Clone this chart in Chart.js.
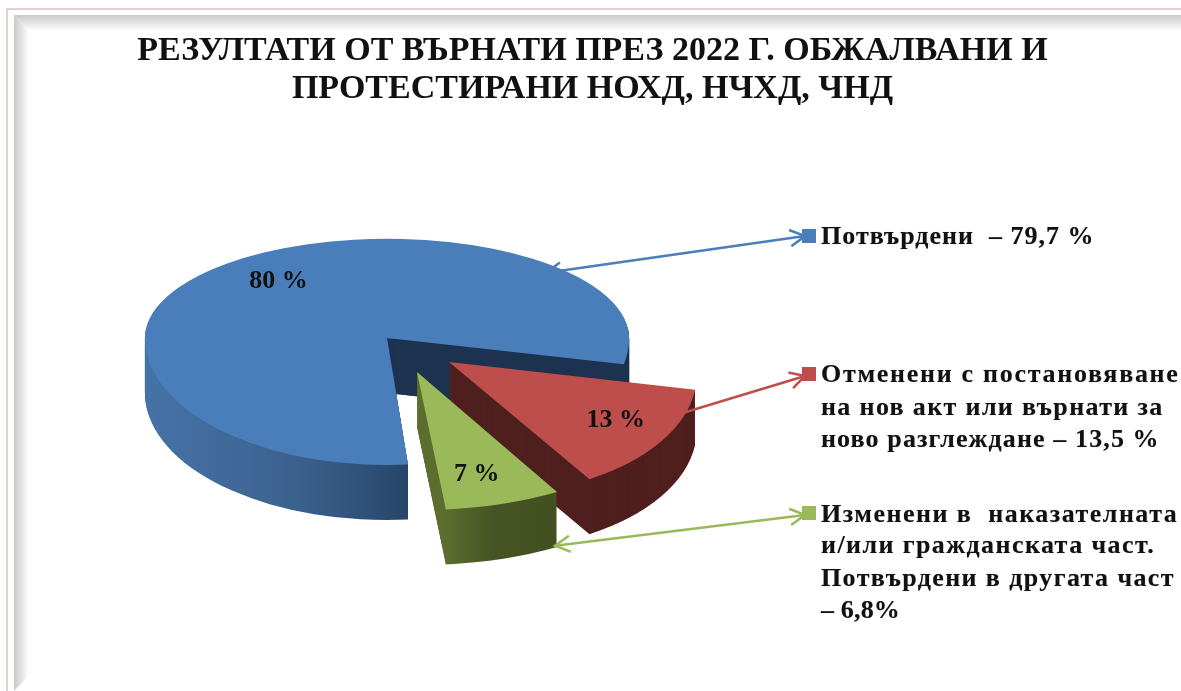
<!DOCTYPE html>
<html>
<head>
<meta charset="utf-8">
<script src="https://cdn.jsdelivr.net/npm/chart.js@4"></script>
<style>
body { margin: 0; background: #fff; width: 1181px; height: 691px; overflow: hidden; position: relative; }
canvas { position: absolute; left: 0; top: 0; }
.frame { position: absolute; }
#pinkTop { left: 6px; top: 8px; right: 0; height: 2px; background: #e6cfcf; }
#pinkLeft { left: 6px; top: 8px; bottom: 0; width: 2px; background: #e6cfcf; }
#shadeTop { left: 14px; top: 15px; right: 0; height: 16px; background: linear-gradient(#c9c9c9, #fff); clip-path: polygon(0 0, 100% 0, 100% 100%, 15px 100%); }
#shadeLeft { left: 14px; top: 15px; bottom: 0; width: 15px; background: linear-gradient(90deg, #c9c9c9, #fff); clip-path: polygon(0 0, 100% 16px, 100% calc(100% - 15px), 0 100%); }
.legendLine { position: absolute; left: 821px; font: bold 26px/30px "Liberation Serif", serif; color: #111; white-space: pre; text-shadow: 0 0 1px rgba(0,0,0,.35); }
.marker { position: absolute; left: 802px; width: 14px; height: 14px; }
</style>
</head>
<body>
<div class="frame" id="pinkTop"></div>
<div class="frame" id="pinkLeft"></div>
<div class="frame" id="shadeTop"></div>
<div class="frame" id="shadeLeft"></div>
<canvas id="myChart" width="1181" height="691"></canvas>
<script>
var titleLines = ['РЕЗУЛТАТИ ОТ ВЪРНАТИ ПРЕЗ 2022 Г. ОБЖАЛВАНИ И', 'ПРОТЕСТИРАНИ НОХД, НЧХД, ЧНД'];
var categories = ['Потвърдени', 'Отменени с постановяване на нов акт или върнати за ново разглеждане', 'Изменени в наказателната и/или гражданската част. Потвърдени в другата част'];
var values = [79.7, 13.5, 6.8];
var sliceLabels = ['80 %', '13 %', '7 %'];
var legendLines = [
    ['Потвърдени  – 79,7 %'],
    ['Отменени с постановяване', 'на нов акт или върнати за', 'ново разглеждане – 13,5 %'],
    ['Изменени в  наказателната', 'и/или гражданската част.', 'Потвърдени в другата част', '– 6,8%']
];
var colors = ['#4a7ebb', '#be4e4b', '#9aba59'];

// layout of the fake 3d pie, screen px
var apexX = [387, 449, 417];
var apexY = [338, 362, 372];
var stretchX = [1, 1.02, 1.14];
var skewX = [0, 0.09, 0.02];
var tiltTop = [0.41, 0.556, 0.57];
var tiltBottom = [0.525, 0.556, 0.57];
var depth = 55;
var markerTop = [229, 367, 506];
var legendBaseline = [[244], [382, 415, 447], [522, 553, 586, 618]];
var legendRight = [[1094], [1180, 1164, 1160], [1178, 1155, 1175, 900]];
var labelRadius = [0.72, 0.8, 0.76];
var labelNudgeX = [7, -3, -6];
var labelNudgeY = [-3, -5, 2];
// where each leader line leaves its slice (degrees clockwise from 12, radius share, wall depth)
var leaderAngle = [45, 120, 151];
var leaderRadius = [0.93, 0.9, 1];
var leaderDepth = [0, 0, 53];
var leaderEndDy = [0, 2, 2];

function wallFill(ctx, arc, i) {
    // gradients are resolved in pie space, not on the screen
    function gx(screenX) {
        return arc.x + (screenX - apexX[i]) / stretchX[i];
    }
    var g;
    if (i === 0) {
        g = ctx.createLinearGradient(gx(143), 0, gx(410), 0);
        g.addColorStop(0, '#4673a8');
        g.addColorStop(0.58, '#3b618e');
        g.addColorStop(1, '#274568');
    } else if (i === 1) {
        g = '#4f1f1e';
    } else {
        g = ctx.createLinearGradient(gx(440), 0, gx(560), 0);
        g.addColorStop(0, '#5c6e2e');
        g.addColorStop(0.4, '#465423');
        g.addColorStop(1, '#424f20');
    }
    return g;
}

function plainOptions(fill) {
    return {
        backgroundColor: fill, borderColor: fill, borderWidth: 0, borderAlign: 'center',
        borderDash: [], borderDashOffset: 0, borderJoinStyle: 'round', borderRadius: 0,
        circular: true, offset: 0, spacing: 0
    };
}

function drawPart(ctx, chart, arc, i, d, fill, tilt, clipTop, clipHeight) {
    var saved = arc.options;
    ctx.save();
    ctx.beginPath();
    ctx.rect(0, clipTop, chart.width, clipHeight);
    ctx.clip();
    ctx.transform(stretchX[i], 0, skewX[i], tilt, apexX[i], apexY[i] + d);
    ctx.translate(-arc.x, -arc.y);
    arc.options = plainOptions(fill);
    arc.draw(ctx);
    arc.options = saved;
    ctx.restore();
}

function drawLayer(ctx, chart, arc, i, d, fill) {
    if (tiltTop[i] === tiltBottom[i]) {
        drawPart(ctx, chart, arc, i, d, fill, tiltTop[i], 0, chart.height);
        return;
    }
    var split = apexY[i] + d;
    drawPart(ctx, chart, arc, i, d, fill, tiltTop[i], 0, split + 1);
    drawPart(ctx, chart, arc, i, d, fill, tiltBottom[i], split, chart.height - split);
}

function slicePoint(i, deg, radius, d) {
    var a = deg * Math.PI / 180;
    var px = Math.sin(a) * radius;
    var py = -Math.cos(a) * radius;
    return {
        x: apexX[i] + stretchX[i] * px + skewX[i] * py,
        y: apexY[i] + d + py * (py < 0 ? tiltTop[i] : tiltBottom[i])
    };
}

function arrowHead(ctx, from, to, size) {
    var a = Math.atan2(to.y - from.y, to.x - from.x);
    ctx.beginPath();
    ctx.moveTo(to.x - size * Math.cos(a - 0.5), to.y - size * Math.sin(a - 0.5));
    ctx.lineTo(to.x, to.y);
    ctx.lineTo(to.x - size * Math.cos(a + 0.5), to.y - size * Math.sin(a + 0.5));
    ctx.stroke();
}

var fakePie = {
    id: 'fakePie',
    beforeDatasetsDraw: function (chart) {
        var ctx = chart.ctx;
        var arcs = chart.getDatasetMeta(0).data;
        var i, d;

        for (i = 0; i < arcs.length; i++) {
            var fill = wallFill(ctx, arcs[i], i);
            for (d = depth; d >= 1; d--) {
                drawLayer(ctx, chart, arcs[i], i, d, fill);
            }
            if (i === 0) {
                // inner cut face of the big slice is flat navy
                ctx.save();
                ctx.beginPath();
                ctx.rect(apexX[0], 0, chart.width, 425);
                ctx.clip();
                for (d = depth; d >= 1; d--) {
                    drawLayer(ctx, chart, arcs[0], 0, d, '#1d3350');
                }
                ctx.restore();
            }
        }
        for (i = 0; i < arcs.length; i++) {
            drawLayer(ctx, chart, arcs[i], i, 0, colors[i]);
        }

        // leader lines
        for (i = 0; i < arcs.length; i++) {
            var start = slicePoint(i, leaderAngle[i], arcs[i].outerRadius * leaderRadius[i], leaderDepth[i]);
            var end = { x: 805, y: markerTop[i] + 7 + leaderEndDy[i] };
            ctx.strokeStyle = colors[i];
            ctx.lineWidth = 2.5;
            ctx.beginPath();
            ctx.moveTo(start.x, start.y);
            ctx.lineTo(end.x, end.y);
            ctx.stroke();
            arrowHead(ctx, start, end, 17);
            if (i !== 1) {
                arrowHead(ctx, end, start, 17);
            }
        }

        // value labels
        ctx.fillStyle = '#111';
        ctx.font = 'bold 26px "Liberation Serif", serif';
        ctx.textAlign = 'center';
        ctx.textBaseline = 'middle';
        for (i = 0; i < arcs.length; i++) {
            var mid = (arcs[i].startAngle + arcs[i].endAngle) / 2 + Math.PI / 2;
            var p = slicePoint(i, mid * 180 / Math.PI, arcs[i].outerRadius * labelRadius[i], 0);
            ctx.fillText(sliceLabels[i], p.x + labelNudgeX[i], p.y + labelNudgeY[i]);
        }
        return false;
    }
};

function buildLegend() {
    for (var i = 0; i < legendLines.length; i++) {
        var marker = document.createElement('div');
        marker.className = 'marker';
        marker.style.top = markerTop[i] + 'px';
        marker.style.background = colors[i];
        document.body.appendChild(marker);
        for (var j = 0; j < legendLines[i].length; j++) {
            var text = legendLines[i][j];
            var line = document.createElement('div');
            line.className = 'legendLine';
            line.textContent = text;
            line.style.top = (legendBaseline[i][j] - 23) + 'px';
            document.body.appendChild(line);
            // stretch each line out to the width it has in the picture
            line.style.letterSpacing = ((legendRight[i][j] - 821 - line.offsetWidth) / text.length) + 'px';
        }
    }
}

buildLegend();

var ctx = document.getElementById('myChart').getContext('2d');
new Chart(ctx, {
    type: 'pie',
    data: {
        labels: categories,
        datasets: [{ data: values, backgroundColor: colors, borderWidth: 0 }]
    },
    options: {
        responsive: false,
        animation: false,
        rotation: 175,
        layout: { padding: { left: 4, bottom: 98 } },
        plugins: {
            legend: { display: false },
            tooltip: { enabled: false },
            title: {
                display: true,
                text: titleLines,
                color: '#111',
                font: { family: '"Liberation Serif", serif', size: 34, weight: 'bold', lineHeight: 1.13 },
                padding: { top: 32, bottom: 0 }
            }
        }
    },
    plugins: [fakePie]
});
</script>
</body>
</html>
